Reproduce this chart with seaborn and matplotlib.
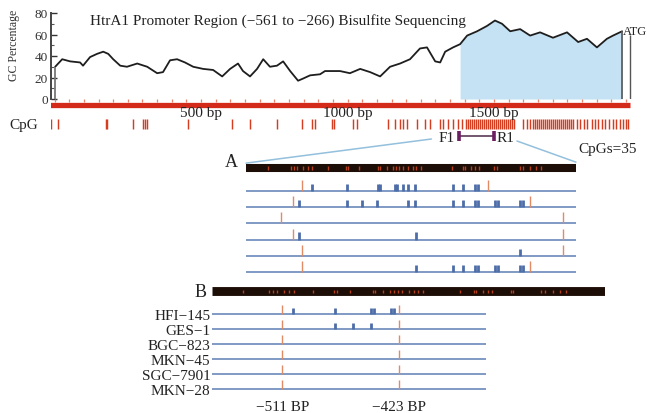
import seaborn as sns
import matplotlib.pyplot as plt
import numpy as np
from matplotlib.patches import ConnectionPatch
from matplotlib.ticker import MultipleLocator

# ---- data -------------------------------------------------------------
# GC percentage along the upstream sequence (bp from start)
gc_pos = [2, 26, 53, 87, 97, 121, 145, 166, 183, 200, 224, 247, 282, 316, 350,
          370, 394, 418, 445, 473, 507, 541, 572, 599, 626, 643, 667, 691, 712, 735,
          759, 780, 804, 831, 848, 872, 906, 923, 974, 1008, 1043, 1077, 1111, 1145, 1179,
          1213, 1247, 1271, 1299, 1316, 1333, 1360, 1384, 1408, 1442, 1476, 1503, 1527, 1555, 1589,
          1623, 1657, 1701, 1749, 1787, 1817, 1851, 1885, 1906, 1937]
gc_val = [30, 37, 35, 34, 31, 39, 42, 44, 42, 37, 31, 30, 33, 30, 24,
          25, 36, 37, 34, 30, 28, 27, 21, 28, 33, 26, 21, 28, 37, 30,
          31, 35, 26, 17, 19, 22, 23, 26, 26, 24, 28, 25, 21, 30, 33,
          37, 47, 48, 35, 34, 44, 48, 51, 59, 63, 68, 73, 70, 63, 65,
          59, 62, 57, 62, 53, 56, 48, 56, 59, 63]
island_start = 1384
atg_pos = 1964
seq_end = 1964
bp_labels = [500, 1000, 1500]

# CpG sites along the whole sequence
cpg_pos = [-12, 12, 174, 178, 268, 302, 309, 316, 456, 606, 667, 759, 845, 879, 889,
           947, 953, 1019, 1032, 1138, 1162, 1179, 1189, 1203, 1237, 1264, 1281, 1316, 1326,
           1343, 1360, 1377, 1391, 1405, 1412, 1419, 1425, 1432, 1439, 1446, 1453, 1459, 1466,
           1473, 1480, 1487, 1494, 1500, 1507, 1514, 1521, 1528, 1535, 1541, 1548, 1555, 1562,
           1569, 1599, 1613, 1623, 1633, 1640, 1647, 1654, 1661, 1668, 1675, 1681, 1688, 1695,
           1702, 1709, 1716, 1722, 1729, 1736, 1743, 1750, 1757, 1763, 1770, 1783, 1794, 1807,
           1817, 1834, 1845, 1855, 1869, 1879, 1892, 1906, 1916, 1930, 1940, 1951, 1957]

# primers
f1_pos = 1381
r1_pos = 1500

# sequenced region (promoter, bp relative to TSS)
region = (-561, -266)
region_sites = [-541, -521, -518, -515, -510, -506, -502, -488, -472, -470, -460, -443,
                -441, -435, -430, -427, -424, -421, -416, -412, -409, -405, -377, -367,
                -365, -360, -356, -353, -339, -337, -316, -313, -307, -302, -297]

# panel A: six clones
a_blue = [
    [-502, -471, -443, -441, -428, -426, -421, -416, -410, -376, -367, -356, -354],
    [-514, -471, -457, -444, -416, -410, -376, -367, -356, -354, -338, -336, -316, -313],
    [],
    [-514, -409],
    [-316],
    [-409, -376, -367, -356, -354, -338, -336, -316, -313],
]
a_red = [
    [-511, -345],
    [-519, -307],
    [-530, -278],
    [-519, -278],
    [-511, -278],
    [-511, -307],
]

# panel B: cell lines
cell_lines = ["HFI\u2212145", "GES\u22121", "BGC\u2212823", "MKN\u221245", "SGC\u22127901", "MKN\u221228"]
b_end = -358
b_blue = [
    [-503, -471, -444, -442, -429, -427],
    [-471, -458, -444],
    [], [], [], [],
]
b_red = [-511, -423]
b_red_labels = ["\u2212511 BP", "\u2212423 BP"]

# ---- style ------------------------------------------------------------
sns.set_style("white")
plt.rcParams["font.family"] = ["Liberation Serif", "DejaVu Serif"]

W, H = 647, 414
fig = plt.figure(figsize=(W / 100, H / 100), dpi=100)
fig.patch.set_facecolor("white")


def px_axes(left, top, right, bottom):
    ax = fig.add_axes([left / W, 1 - bottom / H, (right - left) / W, (bottom - top) / H])
    ax.set_facecolor("none")
    return ax


RED = "#d42a1a"
LINE_BLUE = "#7592c0"
METH_BLUE = "#4d6da8"
MARK_RED = "#e08a66"
LINK_BLUE = "#93c0dc"

# ---- GC content panel -------------------------------------------------
ax_gc = px_axes(50.5, 14, 640, 100)
gc_x = np.array(gc_pos)
gc_y = np.array(gc_val)
ax_gc.fill_between(gc_x, 0, gc_y, where=gc_x >= island_start, color="#c4e2f3", lw=0)
sns.lineplot(x=gc_x, y=gc_y, ax=ax_gc, color="#1e1e1e", lw=1.3)
ax_gc.vlines(gc_x[0], 0, gc_y[0], color="#777777", lw=1.3)
ax_gc.vlines(gc_x[-1], 0, gc_y[-1], color="#555555", lw=1.2)
ax_gc.vlines(atg_pos, 0, 60, color="#555555", lw=1.0)
ax_gc.text(atg_pos - 24, 63, "ATG", fontsize=9, ha="left", va="center", color="#222")
ax_gc.text(121, 73.5, "HtrA1 Promoter Region (\u2212561 to \u2212266) Bisulfite Sequencing",
           fontsize=11, ha="left", va="center", color="#222")
ax_gc.set_xlim(-14, 1998)
ax_gc.set_ylim(0, 80)
ax_gc.set_yticks([0, 20, 40, 60, 80])
ax_gc.yaxis.set_minor_locator(MultipleLocator(10))
ax_gc.set_xticks([])
ax_gc.tick_params(axis="y", which="major", direction="in", length=4, width=1,
                  labelsize=9.5, pad=2, colors="#333", left=True)
ax_gc.tick_params(axis="y", which="minor", direction="in", length=2, width=0.8,
                  colors="#555", left=True)
for s in ["top", "right", "bottom"]:
    ax_gc.spines[s].set_visible(False)
ax_gc.spines["left"].set_color("#444")
ax_gc.spines["left"].set_linewidth(1.4)
ax_gc.set_ylabel("GC Percentage", fontsize=8.5, color="#333")
ax_gc.yaxis.set_label_coords(-0.051, 0.64)
ax_gc.set_xlabel("")

# ---- sequence bar, CpG sites, primers --------------------------------
ax_cpg = px_axes(50.5, 100, 640, 150)
ax_cpg.set_xlim(-14, 1998)
ax_cpg.set_ylim(5, 0)
ax_cpg.hlines(0.55, -19, seq_end, color=RED, lw=3.8)
ax_cpg.vlines(cpg_pos, 2.0, 3.0, color="#d53d20", lw=1.05)
ax_cpg.xaxis.tick_top()
ax_cpg.xaxis.set_major_locator(MultipleLocator(50))
ax_cpg.tick_params(axis="x", direction="in", length=2.5, width=0.9, colors="#e58570",
                   labeltop=False, top=True, bottom=False)
ax_cpg.set_yticks([])
for s in ax_cpg.spines.values():
    s.set_visible(False)
for b in bp_labels:
    ax_cpg.text(b, 1.35, f"{b} bp", fontsize=11, ha="center", va="center", color="#222")
ax_cpg.text(-56, 2.5, "CpG", fontsize=11, ha="right", va="center", color="#222")
ax_cpg.hlines(3.65, f1_pos, r1_pos, color="#4a2a48", lw=1.1)
ax_cpg.vlines([f1_pos, r1_pos], 3.2, 4.2, color="#6b1f62", lw=2.6)
ax_cpg.text(f1_pos - 14, 3.85, "F1", fontsize=11, ha="right", va="center", color="#222")
ax_cpg.text(r1_pos + 10, 3.85, "R1", fontsize=11, ha="left", va="center", color="#222")
ax_cpg.text(1787, 5.0, "CpGs=35", fontsize=11, ha="left", va="center", color="#222")

# ---- panel A ------------------------------------------------------------
ax_a = px_axes(246, 160, 576, 280)
ax_a.set_xlim(*region)
ax_a.set_ylim(5.43, -1.975)
a_bar_y = -1.42
ax_a.hlines(a_bar_y, region[0], region[1], color="#1d0d07", lw=5.8)
ax_a.vlines(region_sites, a_bar_y - 0.12, a_bar_y + 0.12, color="#b8401a", lw=1.0)
for i in range(len(a_blue)):
    ax_a.hlines(i, region[0], region[1], color=LINE_BLUE, lw=1.3)
    ax_a.vlines(a_red[i], i - 0.68, i, color=MARK_RED, lw=1.0)
    ax_a.vlines(a_blue[i], i - 0.45, i, color=METH_BLUE, lw=2.0)
ax_a.text(region[0] - 7, a_bar_y - 0.37, "A", fontsize=13, ha="right", va="center", color="#222")
ax_a.set_xticks([])
ax_a.set_yticks([])
for s in ax_a.spines.values():
    s.set_visible(False)

# ---- panel B ------------------------------------------------------------
ax_b = px_axes(212, 280, 605, 400)
ax_b.set_xlim(-564, -268)
ax_b.set_ylim(5.67, -2.33)
b_bar_y = -1.5
ax_b.hlines(b_bar_y, -564, -268, color="#1d0d07", lw=6.4)
ax_b.vlines(region_sites, b_bar_y - 0.12, b_bar_y + 0.12, color="#b8401a", lw=1.0)
for i in range(len(cell_lines)):
    ax_b.hlines(i, -564, b_end, color=LINE_BLUE, lw=1.3)
    ax_b.vlines(b_red, i - 0.6, i, color=MARK_RED, lw=1.0)
    ax_b.vlines(b_blue[i], i - 0.42, i, color=METH_BLUE, lw=2.0)
ax_b.text(-568, b_bar_y, "B", fontsize=13, ha="right", va="center", color="#222")
ax_b.set_yticks(range(len(cell_lines)))
ax_b.set_yticklabels(cell_lines, fontsize=11, color="#222")
ax_b.set_xticks(b_red)
ax_b.set_xticklabels(b_red_labels, fontsize=11, color="#222")
ax_b.tick_params(length=0, pad=1)
for s in ax_b.spines.values():
    s.set_visible(False)

# ---- zoom links from primer region to panel A -----------------------
for xa, ya, xb, yb in [(1286, 4.0, region[0], -1.72), (1578, 4.2, region[1], -1.78)]:
    con = ConnectionPatch(xyA=(xa, ya), coordsA=ax_cpg.transData,
                          xyB=(xb, yb), coordsB=ax_a.transData,
                          color=LINK_BLUE, lw=1.1)
    fig.add_artist(con)

fig.savefig("out.png", dpi=100)
plt.close(fig)
